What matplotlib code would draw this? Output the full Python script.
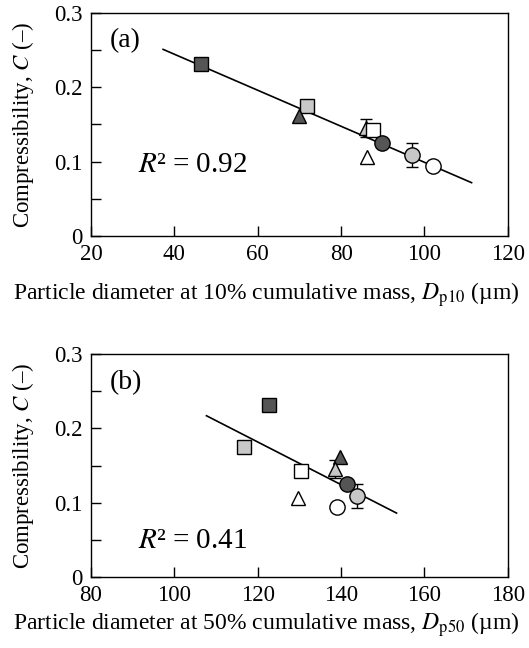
import matplotlib
matplotlib.use("Agg")
import matplotlib.pyplot as plt

plt.rcParams['font.family'] = ['Liberation Serif', 'DejaVu Serif']
plt.rcParams['mathtext.fontset'] = 'stix'

# data (9 samples)
comp = [0.231, 0.175, 0.161, 0.145, 0.143, 0.125, 0.109, 0.094, 0.106]
comp_err = [0, 0, 0, 0.012, 0, 0, 0.016, 0, 0]
d10 = [46.5, 71.8, 69.8, 85.9, 87.7, 89.8, 97.1, 102.1, 86.2]
d50 = [122.7, 116.8, 139.7, 138.5, 130.5, 141.3, 143.9, 138.9, 129.7]

# fitted lines (end points)
fit_a_x = [37.3, 111.3]
fit_a_y = [0.251, 0.0716]
fit_b_x = [107.7, 153.3]
fit_b_y = [0.217, 0.086]

# marker style per sample
dark, light, white = '#555555', '#c8c8c8', 'white'
markers = ['s', 's', '^', '^', 's', 'o', 'o', 'o', '^']
colors = [dark, light, dark, light, white, dark, light, white, white]
sizes = [9.5, 9.5, 10.5, 10.5, 9.5, 11, 11, 11, 10.5]

fig = plt.figure(figsize=(5.29, 6.48), dpi=100)
ax_a = fig.add_axes([0.172, 0.636, 0.788, 0.344])
ax_b = fig.add_axes([0.172, 0.1096, 0.788, 0.344])


def draw(ax, xs, fx, fy, xlim, xticks, tag, r2, r2_y, xlabel, label_y):
    ax.plot(fx, fy, color='black', lw=1.2, zorder=2)
    for x, y, e, m, c, s in zip(xs, comp, comp_err, markers, colors, sizes):
        if e > 0:
            ax.errorbar(x, y, yerr=e, fmt='none', ecolor='black',
                        elinewidth=1, capsize=4, capthick=1, zorder=3)
        ax.plot(x, y, marker=m, ms=s, mfc=c, mec='black', mew=1,
                ls='none', zorder=4)
    ax.set_xlim(xlim)
    ax.set_ylim(0, 0.3)
    ax.set_xticks(xticks)
    ax.set_yticks([0, 0.1, 0.2, 0.3])
    ax.set_yticklabels(['0', '0.1', '0.2', '0.3'])
    ax.set_yticks([0.05, 0.15, 0.25], minor=True)
    ax.tick_params(direction='in', length=7, width=1, labelsize=16.5, pad=6)
    ax.tick_params(which='minor', direction='in', length=7, width=1)
    for sp in ax.spines.values():
        sp.set_linewidth(1)
    ax.text(0.045, 0.93, tag, transform=ax.transAxes, fontsize=20,
            va='top', ha='left')
    ax.text(0.113, r2_y, r2, transform=ax.transAxes, fontsize=21,
            va='center', ha='left')
    ax.set_ylabel('Compressibility, $C$ (–)', fontsize=16.5, labelpad=13)
    ax.set_xlabel(xlabel, fontsize=17)
    ax.xaxis.set_label_coords(0.42, label_y)


draw(ax_a, d10, fit_a_x, fit_a_y, (20, 120), [20, 40, 60, 80, 100, 120],
     '(a)', '$R$² = 0.92', 0.32,
     'Particle diameter at 10% cumulative mass, $D_{\\mathrm{p10}}$ (µm)', -0.2)
draw(ax_b, d50, fit_b_x, fit_b_y, (80, 180), [80, 100, 120, 140, 160, 180],
     '(b)', '$R$² = 0.41', 0.16,
     'Particle diameter at 50% cumulative mass, $D_{\\mathrm{p50}}$ (µm)', -0.15)

fig.savefig('out.png', dpi=100)
